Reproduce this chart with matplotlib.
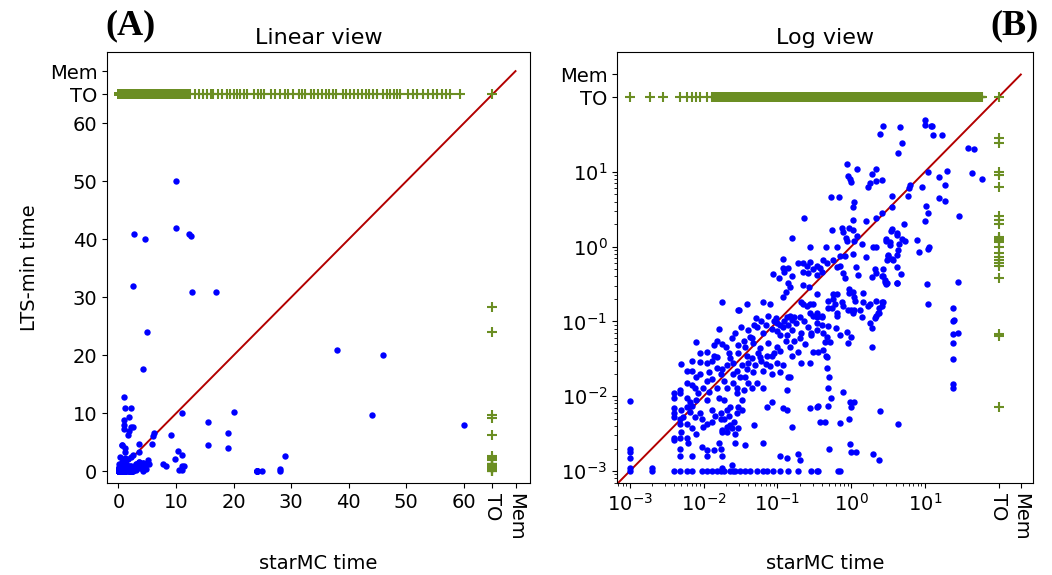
import numpy as np
import matplotlib.pyplot as plt
from matplotlib.ticker import FixedLocator, NullFormatter

# positions used for the "TO" / "Mem" pseudo values
TO_LIN, MEM_LIN = 65, 69
TO_LOG, MEM_LOG = 100, 200

# (starMC time, LTS-min time) for models both tools solved
pts_tiny = [
    (0.001, 0.0087), (0.001, 0.002), (0.001, 0.0018), (0.001, 0.0015), (0.001, 0.0011), (0.001, 0.001),
    (0.002, 0.0011), (0.002, 0.001),
    (0.004, 0.011), (0.004, 0.0095), (0.004, 0.0069), (0.004, 0.006), (0.004, 0.0053), (0.004, 0.0028),
    (0.004, 0.0026), (0.004, 0.001),
    (0.0049, 0.027), (0.0048, 0.012), (0.0048, 0.011), (0.005, 0.0066), (0.0052, 0.0053), (0.0048, 0.0049),
    (0.0048, 0.0043), (0.005, 0.0033), (0.0048, 0.0028), (0.0048, 0.002), (0.0048, 0.0016), (0.0048, 0.001),
    (0.0059, 0.022), (0.0069, 0.022), (0.0059, 0.015), (0.0069, 0.014), (0.0076, 0.013), (0.0059, 0.0095),
    (0.0065, 0.0084), (0.008, 0.0089), (0.0059, 0.0072), (0.0065, 0.0062), (0.0076, 0.0053), (0.0059, 0.0043),
    (0.0069, 0.0038), (0.008, 0.0031), (0.0059, 0.0028), (0.0061, 0.0024), (0.0069, 0.0016), (0.0059, 0.001),
    (0.0069, 0.001), (0.0079, 0.053), (0.009, 0.029), (0.009, 0.02), (0.008, 0.018), (0.0098, 0.013),
    (0.009, 0.006), (0.0095, 0.0049), (0.0097, 0.0039), (0.0095, 0.0021), (0.0095, 0.001),
    (0.009, 0.038), (0.007, 0.03), (0.0085, 0.011), (0.007, 0.0075),
]
pts_small = [
    (0.011, 0.039), (0.014, 0.034), (0.015, 0.033), (0.011, 0.028), (0.015, 0.024), (0.018, 0.023),
    (0.021, 0.026), (0.011, 0.016), (0.017, 0.02), (0.019, 0.016), (0.012, 0.0114), (0.016, 0.0096),
    (0.019, 0.0089), (0.011, 0.0089), (0.013, 0.0066), (0.017, 0.006), (0.021, 0.0066), (0.011, 0.0043),
    (0.013, 0.0045), (0.017, 0.0049), (0.019, 0.0049), (0.021, 0.0039), (0.023, 0.0041), (0.024, 0.0038),
    (0.021, 0.0033), (0.018, 0.0035), (0.018, 0.0033), (0.027, 0.0031), (0.029, 0.0038), (0.011, 0.0019),
    (0.011, 0.0016), (0.014, 0.0019), (0.016, 0.0024), (0.017, 0.002), (0.018, 0.0016), (0.018, 0.0011),
    (0.024, 0.0012), (0.027, 0.0024), (0.036, 0.0022), (0.011, 0.001), (0.013, 0.001), (0.015, 0.001),
    (0.017, 0.001), (0.019, 0.001), (0.023, 0.001), (0.025, 0.001), (0.027, 0.001), (0.031, 0.001),
    (0.036, 0.001), (0.042, 0.001), (0.053, 0.001), (0.064, 0.001), (0.072, 0.001), (0.087, 0.001),
    (0.016, 0.08), (0.015, 0.055), (0.014, 0.048), (0.018, 0.05), (0.018, 0.18),
    (0.029, 0.14), (0.027, 0.07), (0.04, 0.077), (0.042, 0.062), (0.029, 0.048), (0.036, 0.045),
    (0.047, 0.052), (0.058, 0.044), (0.075, 0.052), (0.023, 0.032), (0.025, 0.028), (0.029, 0.038),
    (0.039, 0.034), (0.045, 0.032), (0.054, 0.038), (0.058, 0.033), (0.072, 0.035), (0.084, 0.034),
    (0.098, 0.028), (0.028, 0.022), (0.039, 0.023), (0.047, 0.021), (0.064, 0.022), (0.084, 0.02),
    (0.025, 0.015), (0.031, 0.018), (0.036, 0.018), (0.045, 0.013), (0.053, 0.015), (0.064, 0.013),
    (0.028, 0.013), (0.021, 0.013), (0.028, 0.011), (0.023, 0.0072), (0.029, 0.0072), (0.033, 0.0066),
    (0.028, 0.006), (0.072, 0.0072), (0.084, 0.0083), (0.049, 0.0041), (0.064, 0.0024),
    (0.051, 0.11), (0.049, 0.09), (0.07, 0.09), (0.053, 0.083), (0.098, 0.095), (0.064, 0.07),
    (0.03, 0.14), (0.039, 0.17), (0.063, 0.18), (0.08, 0.17), (0.097, 0.11), (0.088, 0.43),
    (0.06, 0.1), (0.075, 0.12), (0.09, 0.1), (0.085, 0.08), (0.045, 0.06), (0.035, 0.055),
    (0.032, 0.085), (0.024, 0.06), (0.02, 0.045), (0.022, 0.038), (0.013, 0.03), (0.012, 0.021),
    (0.025, 0.02), (0.033, 0.026), (0.04, 0.028), (0.05, 0.026), (0.06, 0.03), (0.07, 0.027),
    (0.08, 0.025), (0.09, 0.038), (0.035, 0.012), (0.04, 0.015), (0.033, 0.009), (0.015, 0.013),
    (0.013, 0.017), (0.022, 0.0055), (0.026, 0.0045), (0.0145, 0.0055),
]
pts_mid = [
    (0.135, 0.115), (0.16, 0.105), (0.2, 0.115), (0.28, 0.13), (0.34, 0.115), (0.108, 0.066),
    (0.135, 0.066), (0.16, 0.077), (0.21, 0.07), (0.29, 0.066), (0.34, 0.077), (0.1, 0.045),
    (0.15, 0.045), (0.19, 0.039), (0.3, 0.039), (0.12, 0.026), (0.16, 0.034), (0.21, 0.028),
    (0.28, 0.028), (0.108, 0.021), (0.14, 0.018), (0.15, 0.018), (0.135, 0.012), (0.12, 0.007),
    (0.135, 0.0066), (0.28, 0.007), (0.34, 0.0072), (0.16, 0.0039), (0.108, 0.0016), (0.135, 0.0015),
    (0.19, 0.0017), (0.2, 0.0014), (0.29, 0.001), (0.34, 0.001), (0.108, 0.001), (0.14, 0.001),
    (0.19, 0.001), (0.66, 0.001), (0.7, 0.001),
    (0.4, 0.115), (0.34, 0.095), (0.4, 0.09), (0.48, 0.087), (0.62, 0.082), (0.29, 0.07),
    (0.41, 0.07), (0.47, 0.062), (0.44, 0.053), (0.52, 0.053), (0.71, 0.066), (0.89, 0.072),
    (0.91, 0.052), (0.36, 0.039), (0.41, 0.041), (0.46, 0.035), (0.47, 0.033), (0.47, 0.024),
    (0.5, 0.018), (0.49, 0.013), (0.78, 0.0114), (0.53, 0.0095), (0.97, 0.0084), (0.36, 0.0074),
    (0.49, 0.0074), (0.38, 0.0045), (0.44, 0.0045), (0.7, 0.0044), (0.93, 0.005), (0.5, 0.002),
    (0.97, 0.0023), (0.36, 0.001),
    (0.11, 0.09), (0.125, 0.1), (0.1, 0.075), (0.12, 0.085), (0.14, 0.09), (0.18, 0.095),
    (0.23, 0.1), (0.26, 0.085), (0.2, 0.06), (0.17, 0.055), (0.24, 0.05), (0.13, 0.055), (0.11, 0.04),
    (0.16, 1.3), (0.23, 2.4), (0.28, 1.0), (0.45, 1.0), (0.65, 1.0), (0.7, 0.75), (0.82, 0.75),
    (0.55, 1.65), (0.75, 1.75), (0.77, 1.55), (0.95, 1.8), (0.85, 1.3), (0.88, 1.2), (0.53, 4.6),
    (0.68, 4.6), (0.88, 12.8), (0.9, 8.9),
    (0.12, 0.68), (0.19, 0.6), (0.22, 0.6), (0.25, 0.55), (0.28, 0.63), (0.34, 0.55), (0.38, 0.52),
    (0.41, 0.67), (0.47, 0.6), (0.4, 0.46), (0.34, 0.42), (0.3, 0.5), (0.57, 0.66), (0.65, 0.53),
    (0.7, 0.55), (0.12, 0.52), (0.125, 0.46), (0.14, 0.52), (0.105, 0.38), (0.16, 0.4), (0.22, 0.46),
    (0.26, 0.45), (0.78, 0.45), (0.83, 0.38), (0.14, 0.33), (0.15, 0.29), (0.22, 0.31), (0.27, 0.29),
    (0.13, 0.25), (0.12, 0.21), (0.34, 0.23), (0.48, 0.19), (0.57, 0.23), (0.65, 0.23), (0.57, 0.2),
    (0.6, 0.17), (0.55, 0.15), (0.75, 0.18), (0.93, 0.27), (0.95, 0.24), (0.21, 0.18), (0.22, 0.17),
    (0.25, 0.16), (0.28, 0.17), (0.3, 0.17), (0.34, 0.13), (0.3, 0.12), (0.4, 0.12), (0.48, 0.15),
    (0.65, 0.13), (0.65, 0.12), (0.78, 0.16), (0.9, 0.14), (0.15, 0.12), (0.17, 0.115),
]
pts_large = [
    (1.0, 0.062), (1.9, 0.046), (1.9, 0.082), (1.8, 0.095), (2.1, 0.11), (2.3, 0.13), (1.4, 0.115),
    (1.05, 0.13), (1.3, 0.14), (1.0, 0.0072), (1.1, 0.0084), (2.5, 0.0063), (4.3, 0.0043), (1.0, 0.0018),
    (1.15, 0.0018), (2.0, 0.0017), (2.4, 0.0014),
    (1.0, 0.14), (1.1, 0.14), (1.7, 0.16), (2.2, 0.12), (2.4, 0.13), (1.05, 0.25), (1.1, 0.21),
    (1.12, 0.19), (1.45, 0.24), (1.45, 0.18), (1.8, 0.17), (2.2, 0.19), (2.6, 0.18), (2.4, 0.15),
    (1.15, 0.53), (1.25, 0.42), (2.1, 0.5), (2.2, 0.45), (2.6, 0.4), (2.9, 0.36), (3.1, 0.33),
    (4.2, 0.33), (1.9, 0.39), (1.05, 0.8), (1.6, 0.72), (2.0, 1.0), (2.2, 1.0), (3.0, 1.2), (3.4, 1.15),
    (3.2, 0.78), (3.1, 0.67), (3.6, 0.68), (4.3, 0.9), (1.2, 1.4), (1.1, 1.2), (1.4, 1.1), (3.5, 1.6),
    (4.2, 1.45), (1.05, 1.65), (1.6, 2.2), (1.05, 2.3), (2.2, 2.4), (2.6, 2.8), (1.1, 4.0), (1.05, 3.4),
    (3.6, 4.8), (1.2, 11), (2.2, 11), (1.9, 9.3), (0.98, 8), (1.0, 7.3), (1.8, 7), (1.7, 6.2),
    (2.2, 7.6), (2.6, 7.7), (6.2, 6.6), (6.0, 6.1), (9.2, 6.2), (5.9, 4.7), (2.7, 41), (4.6, 40),
    (2.5, 32), (4.9, 24), (4.3, 17.6),
    (3.6, 3.4), (5.2, 2.0), (3.6, 1.7), (4.2, 1.5), (3.0, 1.27), (3.4, 1.06), (4.9, 1.27), (5.3, 1.2),
    (4.5, 1.1), (7.8, 1.24), (8.2, 0.85), (3.2, 0.75), (3.7, 0.66), (4.2, 0.77), (4.2, 0.53),
    (2.7, 0.5), (2.7, 0.4), (2.9, 0.34), (3.0, 0.32), (4.8, 0.43), (4.2, 0.33), (2.7, 0.18), (2.6, 0.16),
]
pts_slow = [
    (10, 50), (10, 42), (12.3, 41), (12.6, 40.5), (12.7, 31), (17, 31), (38, 21), (46, 20), (44, 9.7),
    (60, 8), (11, 10), (15.5, 8.5), (20, 10.2), (19, 6.7), (15.6, 4.5), (19, 4.1), (10.4, 3.5), (11, 2.8),
    (9.9, 2.2), (29, 2.6), (11, 0.94), (11.3, 1.0), (10.6, 0.32), (28, 0.34), (11, 0.17), (24, 0.15),
    (25, 0.105), (24, 0.1), (24, 0.068), (28, 0.07), (24, 0.052), (24, 0.031), (24, 0.0145), (24, 0.0128),
]

# starMC times of models where LTS-min timed out
to_row_fast = [
    0.001, 0.0019, 0.0028, 0.0048, 0.006, 0.0069, 0.008, 0.009, 0.011,
    0.0132, 0.0138, 0.0145, 0.0151, 0.0158, 0.0166, 0.0174, 0.0182, 0.0191, 0.02, 0.0209, 0.0219,
    0.0229, 0.024, 0.0251, 0.0263, 0.0275, 0.0288, 0.0302, 0.0316, 0.0331, 0.0347, 0.0363, 0.038,
    0.0398, 0.0417, 0.0437, 0.0457, 0.0479, 0.0501, 0.0525, 0.055, 0.0575, 0.0603, 0.0631, 0.0661,
    0.0692, 0.0724, 0.0759, 0.0794, 0.0832, 0.0871, 0.0912, 0.0955,
]
to_row_mid = [
    0.1, 0.105, 0.11, 0.115, 0.12, 0.126, 0.132, 0.138, 0.145, 0.151, 0.158, 0.166, 0.174, 0.182,
    0.191, 0.2, 0.209, 0.219, 0.229, 0.24, 0.251, 0.263, 0.275, 0.288, 0.302, 0.316, 0.331, 0.347,
    0.363, 0.38, 0.398, 0.417, 0.437, 0.457, 0.479, 0.501, 0.525, 0.55, 0.575, 0.603, 0.631, 0.661,
    0.692, 0.724, 0.759, 0.794, 0.832, 0.871, 0.912, 0.955,
    1.0, 1.05, 1.1, 1.15, 1.2, 1.26, 1.32, 1.38, 1.45, 1.51, 1.58, 1.66, 1.74, 1.82, 1.91, 2.0,
    2.09, 2.19, 2.29, 2.4, 2.51, 2.63, 2.75, 2.88, 3.02, 3.16, 3.31, 3.47, 3.63, 3.8, 3.98, 4.17,
    4.37, 4.57, 4.79, 5.0,
]
to_row_slow = [
    5.25, 5.5, 5.75, 6.0, 6.25, 6.5, 6.75, 7.0, 7.25, 7.5, 7.75, 8.0, 8.25, 8.5, 8.75, 9.0, 9.25,
    9.5, 9.75, 10.0, 10.25, 10.5, 10.75, 11.0, 11.25, 11.5, 11.75, 12.0,
    12.5, 13.3, 14, 14.6, 15.3, 16, 16.5, 17.3, 18, 18.8, 19.4, 20, 20.6, 21.2, 21.8, 22.4, 23.5,
    24.2, 24.8, 25.3, 26.5, 27.2, 28, 28.9, 29.5, 30.4, 31.3, 31.9, 32.5, 33.4, 34, 34.7, 35.3, 36,
    36.5, 37.2, 37.8, 39, 39.6, 40.2, 41, 41.6, 42.3, 43, 43.6, 44.3, 45, 46, 46.6, 47.2, 47.8,
    48.4, 49, 50.4, 51.1, 51.9, 53, 53.8, 54.6, 55.4, 56.2, 57, 57.7, 59.3,
]
# LTS-min times of models where starMC timed out
starmc_timeout_y = [28.3, 24.0, 9.8, 9.2, 6.3, 2.6, 2.3, 2.0, 1.35, 1.3, 1.25, 1.2, 1.15, 1.0,
                    0.82, 0.73, 0.67, 0.6, 0.55, 0.38, 0.068, 0.064, 0.0072]

solved = pts_tiny + pts_small + pts_mid + pts_large + pts_slow
sx = np.array([p[0] for p in solved])
sy = np.array([p[1] for p in solved])
lts_timeout_x = to_row_fast + to_row_mid + to_row_slow

blue = dict(ls='none', marker='o', ms=4.6, mew=0, color='blue')
green = dict(ls='none', marker='+', ms=6.5, mew=1.5, color='olivedrab')
red = '#b30000'

plt.rcParams['font.size'] = 14
fig = plt.figure(figsize=(10.52, 5.75), dpi=100)
ax1 = fig.add_axes([0.1017, 0.16, 0.402, 0.7496])
ax2 = fig.add_axes([0.5865, 0.16, 0.3955, 0.7496])

# linear view
ax1.plot([0, MEM_LIN], [0, MEM_LIN], color=red, lw=1.4, zorder=1)
ax1.plot(sx, sy, **blue)
ax1.plot(lts_timeout_x, [TO_LIN] * len(lts_timeout_x), **green)
ax1.plot([TO_LIN] * len(starmc_timeout_y), starmc_timeout_y, **green)
ax1.plot([TO_LIN], [TO_LIN], **green)
ax1.set_xlim(-2, 71.5)
ax1.set_ylim(-2, 72.3)
lin_ticks = [0, 10, 20, 30, 40, 50, 60, TO_LIN, MEM_LIN]
lin_labels = ['0', '10', '20', '30', '40', '50', '60', 'TO', 'Mem']
ax1.set_xticks(lin_ticks, lin_labels)
ax1.set_yticks(lin_ticks, lin_labels)
for lab in ax1.get_xticklabels()[-2:]:
    lab.set_rotation(270)
ax1.set_title('Linear view', fontsize=16)
ax1.set_xlabel('starMC time', labelpad=10)
ax1.set_ylabel('LTS-min time', labelpad=8)

# log view
ax2.plot([1e-4, MEM_LOG], [1e-4, MEM_LOG], color=red, lw=1.4, zorder=1)
ax2.plot(sx, sy, **blue)
ax2.plot(lts_timeout_x, [TO_LOG] * len(lts_timeout_x), **green)
ax2.plot([TO_LOG] * len(starmc_timeout_y), starmc_timeout_y, **green)
ax2.plot([TO_LOG], [TO_LOG], **green)
ax2.set_xscale('log')
ax2.set_yscale('log')
ax2.set_xlim(6.7e-4, 293)
ax2.set_ylim(10 ** -3.16, 400)
log_ticks = [1e-3, 1e-2, 1e-1, 1e0, 1e1, TO_LOG, MEM_LOG]
log_labels = [r'$10^{-3}$', r'$10^{-2}$', r'$10^{-1}$', r'$10^{0}$', r'$10^{1}$', 'TO', 'Mem']
minor = [k * 10.0 ** e for e in range(-4, 1) for k in range(2, 10)]
for axis in (ax2.xaxis, ax2.yaxis):
    axis.set_major_locator(FixedLocator(log_ticks))
    axis.set_minor_locator(FixedLocator(minor))
    axis.set_minor_formatter(NullFormatter())
ax2.set_xticklabels(log_labels)
ax2.set_yticklabels(log_labels)
for lab in ax2.get_xticklabels()[-2:]:
    lab.set_rotation(270)
ax2.set_title('Log view', fontsize=16)
ax2.set_xlabel('starMC time', labelpad=10)

fig.text(0.1, 0.955, '(A)', family='Liberation Serif', weight='bold', fontsize=26, va='center')
fig.text(0.941, 0.955, '(B)', family='Liberation Serif', weight='bold', fontsize=26, va='center')

fig.savefig('out.png', dpi=100)
